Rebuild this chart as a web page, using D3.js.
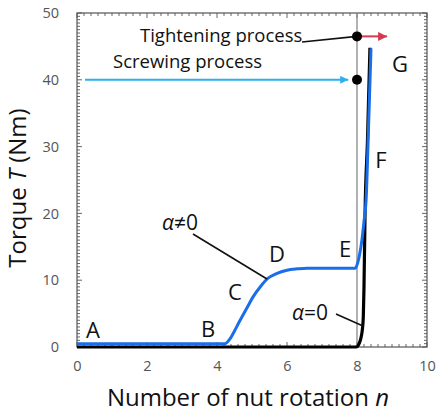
<!DOCTYPE html>
<html><head><meta charset="utf-8">
<script src="https://cdn.jsdelivr.net/npm/d3@7/dist/d3.min.js"></script>
<style>
html,body{margin:0;padding:0;background:#fff;}
svg{display:block;font-family:"Open Sans",sans-serif;}
</style></head>
<body>
<svg id="c" width="436" height="415"></svg>
<script>
// ---- data ----
const xTicks = [0, 2, 4, 6, 8, 10];
const yTicks = [0, 10, 20, 30, 40, 50];
// blue curve (alpha != 0): [n, T]
const blueN = [0, 1, 2, 3, 4, 4.23, 4.37, 4.5, 4.66, 4.85, 5.03, 5.25, 5.46, 5.7, 6.0, 6.3, 6.57, 7.0, 7.5, 7.95, 8.02, 8.08, 8.14, 8.2, 8.26, 8.33, 8.4];
const blueT = [0.5, 0.5, 0.5, 0.5, 0.5, 0.5, 1.2, 2.4, 4.0, 5.8, 7.5, 9.1, 10.3, 11.0, 11.5, 11.7, 11.8, 11.8, 11.8, 11.8, 12.6, 14.0, 16.0, 18.8, 22.0, 33.0, 44.7];
// black curve (alpha = 0)
const blackN = [0, 2, 4, 6, 7.98, 8.06, 8.11, 8.15, 8.18, 8.2, 8.23, 8.3, 8.37];
const blackT = [0, 0, 0, 0, 0, 0.5, 1.3, 2.5, 4.5, 9.0, 20.0, 31.0, 44.8];
const pointLabels = ["A", "B", "C", "D", "E", "F", "G"];
const screwingT = 40;
const tighteningT = 46.5;
const markerN = 8;

// ---- layout ----
const svg = d3.select("#c");
const x = d3.scaleLinear().domain([0, 10]).range([77, 427]);
const y = d3.scaleLinear().domain([0, 50]).range([347, 13]);
const axisColor = "#555";
const tickColor = "#555";

// frame
svg.append("rect").attr("x", x(0)).attr("y", y(50))
  .attr("width", x(10) - x(0)).attr("height", y(0) - y(50))
  .attr("fill", "none").attr("stroke", axisColor).attr("stroke-width", 1.2);

// minor ticks
const xMinor = d3.range(0, 10.001, 0.2);
const yMinor = d3.range(0, 50.001, 0.5);
const tg = svg.append("g").attr("stroke", axisColor).attr("stroke-width", 0.9);
xMinor.forEach(v => {
  const major = Math.abs(v / 2 - Math.round(v / 2)) < 1e-6;
  const L = major ? 5 : 3;
  tg.append("line").attr("x1", x(v)).attr("x2", x(v)).attr("y1", y(0)).attr("y2", y(0) - L);
  tg.append("line").attr("x1", x(v)).attr("x2", x(v)).attr("y1", y(50)).attr("y2", y(50) + L);
});
yMinor.forEach(v => {
  const major = Math.abs(v / 10 - Math.round(v / 10)) < 1e-6;
  const L = major ? 5 : 3;
  tg.append("line").attr("y1", y(v)).attr("y2", y(v)).attr("x1", x(0)).attr("x2", x(0) + L);
  tg.append("line").attr("y1", y(v)).attr("y2", y(v)).attr("x1", x(10)).attr("x2", x(10) - L);
});

// axes tick labels via d3 axes
const xAxis = d3.axisBottom(x).tickValues(xTicks).tickSize(0).tickPadding(14).tickFormat(d3.format("d"));
const gx = svg.append("g").attr("transform", `translate(0,${y(0)})`).call(xAxis);
gx.select(".domain").remove();
gx.selectAll("text").attr("font-size", 14.5).attr("fill", tickColor).attr("font-family", "'Open Sans', sans-serif");

const yAxis = d3.axisLeft(y).tickValues(yTicks).tickSize(0).tickPadding(18).tickFormat(d3.format("d"));
const gy = svg.append("g").attr("transform", `translate(${x(0)},0)`).call(yAxis);
gy.select(".domain").remove();
gy.selectAll("text").attr("font-size", 14.5).attr("fill", tickColor).attr("font-family", "'Open Sans', sans-serif");

// axis titles
const xt = svg.append("text").attr("x", 248).attr("y", 406).attr("text-anchor", "middle")
  .attr("font-size", 24).attr("fill", "#111");
xt.append("tspan").text("Number of nut rotation ");
xt.append("tspan").attr("font-style", "italic").text("n");

const yt = svg.append("text").attr("transform", "translate(26,188) rotate(-90)").attr("text-anchor", "middle")
  .attr("font-size", 24).attr("fill", "#111");
yt.append("tspan").text("Torque ");
yt.append("tspan").attr("font-style", "italic").text("T");
yt.append("tspan").text(" (Nm)");

// vertical gray line at n = 8
svg.append("line").attr("x1", x(markerN)).attr("x2", x(markerN)).attr("y1", y(0)).attr("y2", y(50))
  .attr("stroke", "#888").attr("stroke-width", 1.3);

// curves
const line = d3.line().x(d => x(d[0])).y(d => y(d[1])).curve(d3.curveMonotoneX);
const blackData = blackN.map((n, i) => [n, blackT[i]]);
const blueData = blueN.map((n, i) => [n, blueT[i]]);
svg.append("path").attr("d", line(blackData)).attr("fill", "none").attr("stroke", "#000").attr("stroke-width", 3.2);
svg.append("path").attr("d", line(blueData)).attr("fill", "none").attr("stroke", "#1a6ee8").attr("stroke-width", 3);

// arrows
const defs = svg.append("defs");
function marker(id, color, w, h) {
  defs.append("marker").attr("id", id).attr("viewBox", "0 0 10 10").attr("refX", 10).attr("refY", 5)
    .attr("markerWidth", w).attr("markerHeight", h).attr("markerUnits", "userSpaceOnUse").attr("orient", "auto")
    .append("path").attr("d", "M0,0 L10,5 L0,10 Z").attr("fill", color);
}
marker("mb", "#29b0f0", 12, 8);
marker("mr", "#d23a4e", 14, 9);
svg.append("line").attr("x1", x(0.23)).attr("x2", x(7.75)).attr("y1", y(screwingT)).attr("y2", y(screwingT))
  .attr("stroke", "#29b0f0").attr("stroke-width", 2).attr("marker-end", "url(#mb)");
svg.append("line").attr("x1", x(8.1)).attr("x2", x(8.86)).attr("y1", y(tighteningT)).attr("y2", y(tighteningT))
  .attr("stroke", "#d23a4e").attr("stroke-width", 2).attr("marker-end", "url(#mr)");

// leader for tightening
svg.append("line").attr("x1", 302).attr("y1", 42).attr("x2", x(markerN)).attr("y2", y(tighteningT))
  .attr("stroke", "#111").attr("stroke-width", 1.6);

// dots
[screwingT, tighteningT].forEach(t => {
  svg.append("circle").attr("cx", x(markerN)).attr("cy", y(t)).attr("r", 5).attr("fill", "#000");
});

// process texts
svg.append("text").attr("x", 140).attr("y", 42).attr("font-size", 18.5).attr("fill", "#111").text("Tightening process");
svg.append("text").attr("x", 113).attr("y", 68).attr("font-size", 18.5).attr("fill", "#111").text("Screwing process");

// point labels
const labelPos = [[93, 338], [208, 337], [235, 300], [277, 262], [345, 257], [381, 168], [400, 72]];
pointLabels.forEach((t, i) => {
  svg.append("text").attr("x", labelPos[i][0]).attr("y", labelPos[i][1]).attr("text-anchor", "middle")
    .attr("font-size", 22).attr("fill", "#111").text(t);
});

// alpha labels
const a1 = svg.append("text").attr("x", 162).attr("y", 230).attr("font-size", 21).attr("fill", "#111");
a1.append("tspan").attr("font-style", "italic").text("α");
a1.append("tspan").text("≠0");
svg.append("line").attr("x1", 193).attr("y1", 234).attr("x2", 267).attr("y2", 279).attr("stroke", "#111").attr("stroke-width", 1.6);

const a2 = svg.append("text").attr("x", 292).attr("y", 320).attr("font-size", 21).attr("fill", "#111");
a2.append("tspan").attr("font-style", "italic").text("α");
a2.append("tspan").text("=0");
svg.append("line").attr("x1", 336).attr("y1", 314).attr("x2", 363).attr("y2", 326).attr("stroke", "#111").attr("stroke-width", 1.6);
</script>
</body></html>
